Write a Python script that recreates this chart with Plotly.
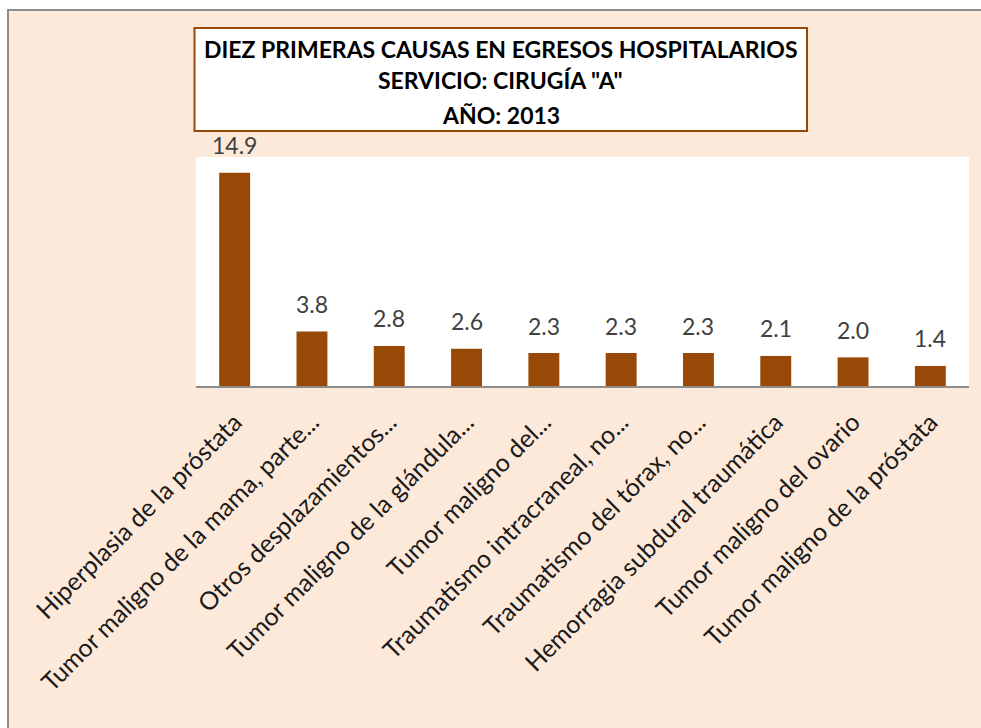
import plotly.graph_objects as go

categorias = [
    "Hiperplasia de la próstata",
    "Tumor maligno de la mama, parte...",
    "Otros desplazamientos...",
    "Tumor maligno de la glándula...",
    "Tumor maligno del...",
    "Traumatismo intracraneal, no...",
    "Traumatismo del tórax, no...",
    "Hemorragia subdural traumática",
    "Tumor maligno del ovario",
    "Tumor maligno de la próstata",
]
porcentajes = [14.9, 3.8, 2.8, 2.6, 2.3, 2.3, 2.3, 2.1, 2.0, 1.4]
titulo = [
    "DIEZ PRIMERAS CAUSAS EN EGRESOS HOSPITALARIOS",
    'SERVICIO: CIRUGÍA "A"',
    "AÑO: 2013",
]

W, H = 981, 728
# plot area in pixels
L, R, T, B = 196, 969, 157, 386

FONT = "Lato"
MARRON = "#984807"
FONDO = "#FDE9D9"


def px(x):
    return (x - L) / (R - L)


def py(y):
    return (B - y) / (B - T)


fig = go.Figure()
fig.add_trace(go.Bar(
    x=categorias, y=porcentajes,
    marker=dict(color=MARRON, line=dict(width=0)),
    hoverinfo="x+y",
))

shapes = [
    # borde blanco y marco gris de la hoja
    dict(type="rect", xref="paper", yref="paper", x0=px(0), x1=px(W), y0=py(0), y1=py(9),
         fillcolor="white", line=dict(width=0)),
    dict(type="rect", xref="paper", yref="paper", x0=px(0), x1=px(7), y0=py(0), y1=py(H),
         fillcolor="white", line=dict(width=0)),
    dict(type="line", xref="paper", yref="paper", x0=px(7), x1=px(W), y0=py(10), y1=py(10),
         line=dict(color="#8c8c8c", width=2)),
    dict(type="line", xref="paper", yref="paper", x0=px(8), x1=px(8), y0=py(9), y1=py(H),
         line=dict(color="#8c8c8c", width=2)),
    # caja del titulo
    dict(type="rect", xref="paper", yref="paper", x0=px(194.5), x1=px(807), y0=py(28), y1=py(131),
         fillcolor="white", line=dict(color=MARRON, width=2)),
]

annotations = []
for linea, yy in zip(titulo, [48.5, 80, 114.5]):
    annotations.append(dict(
        text="<b>%s</b>" % linea, xref="paper", yref="paper",
        x=px(500.5), y=py(yy), xanchor="center", yanchor="middle", showarrow=False,
        font=dict(family=FONT, size=23, color="#000000"),
    ))

# etiquetas de datos sobre cada barra
for cat, val in zip(categorias, porcentajes):
    annotations.append(dict(
        text="%.1f" % val, x=cat, y=val, xref="x", yref="y",
        xanchor="center", yanchor="middle", yshift=27.5, showarrow=False,
        font=dict(family=FONT, size=23, color="#404040"),
    ))

fig.update_layout(
    width=W, height=H,
    margin=dict(l=L, r=W - R, t=T, b=H - B, pad=0),
    paper_bgcolor=FONDO, plot_bgcolor="white",
    bargap=0.6, showlegend=False,
    shapes=shapes, annotations=annotations,
    xaxis=dict(showline=True, linecolor="#8c8c8c", linewidth=1.5, ticks="",
               tickangle=-45, ticklabelstandoff=10,
               tickfont=dict(family=FONT, size=25, color="#1a1a1a")),
    yaxis=dict(range=[0, 16], visible=False, showgrid=False),
)

# no page margin, so the figure fills the window
fig.write_html("out.html", config={"displayModeBar": False},
               post_script="document.body.style.margin = '0';")
